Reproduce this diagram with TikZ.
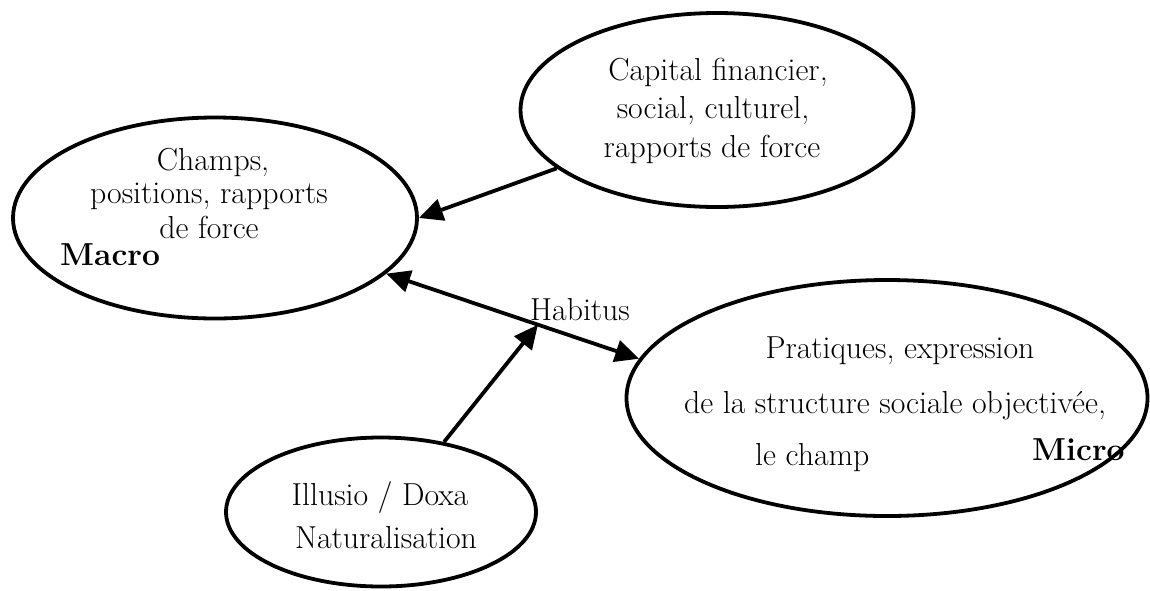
\documentclass[tikz,border=0pt]{standalone}
\usepackage{fontspec}
\usetikzlibrary{arrows.meta,shapes.geometric,calc}
\begin{document}
\begin{tikzpicture}[x=1pt,y=-1pt,
  bub/.style={draw, ellipse, line width=3.8pt, inner sep=0pt},
  txt/.style={font=\fontsize{31.8pt}{38pt}\selectfont, inner sep=0pt, anchor=base},
  tip/.tip={Triangle[length=24pt,width=22pt]},
  arr/.style={line width=3.8pt, -tip}]
\useasboundingbox (0,0) rectangle (1150,590);
% ellipses
\node[bub, minimum width=404pt, minimum height=201pt] (champs) at (215,218) {};
\node[bub, minimum width=393pt, minimum height=194pt] (cap) at (717,110) {};
\node[bub, minimum width=521pt, minimum height=236pt] (prat) at (887,398) {};
\node[bub, minimum width=310pt, minimum height=149pt] (ill) at (381,512) {};
% texts
\node[txt] (c1) at (213,170) {Champs,};
\node[txt] (c2) at (209,203) {positions, rapports};
\node[txt] (c3) at (209,238) {de force};
\node[txt, anchor=base west] (macro) at (60,265) {\bfseries Macro};
\node[txt] (k1) at (718,80) {Capital financier,};
\node[txt] (k2) at (713,118) {social, culturel,};
\node[txt] (k3) at (712,157) {rapports de force};
\node[txt] (p1) at (900,358) {Pratiques, expression};
\node[txt] (p2) at (895,413) {de la structure sociale objectivée,};
\node[txt, anchor=base west] (p3) at (755,465) {le champ};
\node[txt, anchor=base west] (micro) at (1032,460) {\bfseries Micro};
\node[txt] (i1) at (380,505) {Illusio / Doxa};
\node[txt] (i2) at (386,548) {Naturalisation};
\node[txt] (hab) at (580,320) {Habitus};
% connectors
\draw[arr] (cap.200) -- (champs.0);
\draw[arr, tip-tip] (champs.342) -- (prat.171);
\coordinate (h) at ($(champs.342)!0.6!(prat.171)$);
\draw[arr] (ill.48) -- (h);
\end{tikzpicture}
\end{document}
